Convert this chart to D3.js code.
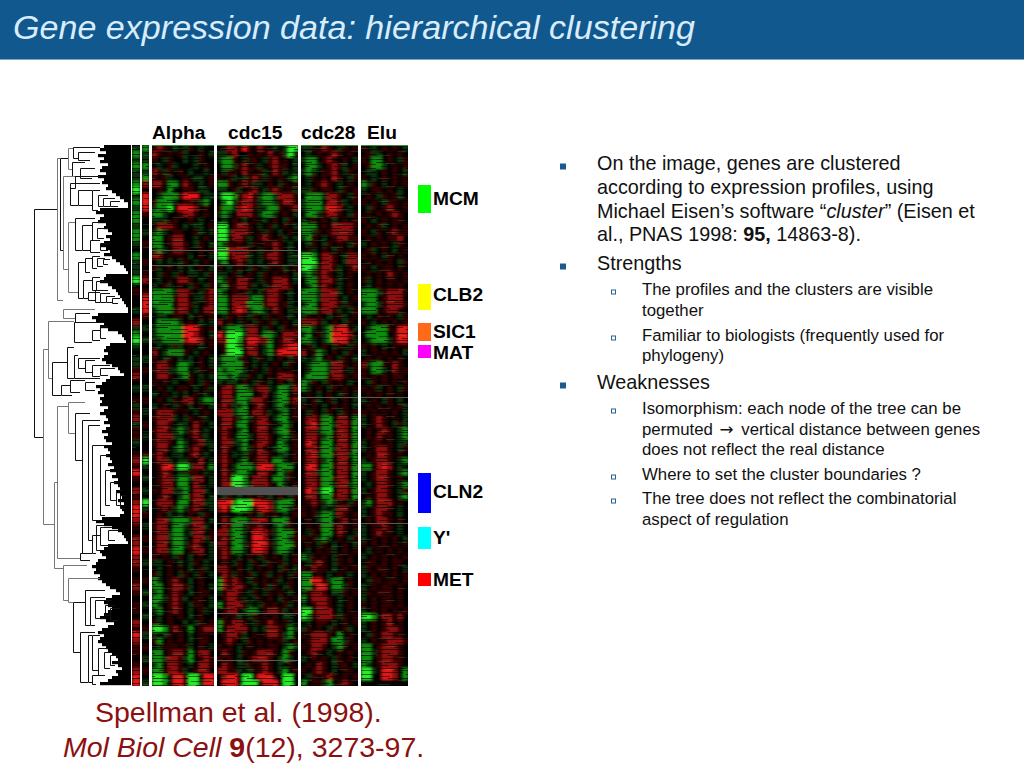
<!DOCTYPE html>
<html><head><meta charset="utf-8">
<script src="https://cdn.jsdelivr.net/npm/d3@7"></script>
<style>html,body{margin:0;padding:0;background:#fff}svg{display:block}text{font-family:"Liberation Sans",Arial,sans-serif}</style>
</head><body><svg id="c" width="1024" height="768"></svg>
<script>
// ---- expression levels: G g , . ; r R  (strong green ... black ... strong red), one string per row
const strip1 = ",g,g,,gG,g,gg,gg,.g,,,G.;..,.r,gG,.,,;r.,.;,;r,;;,.;r;R;.r;rRRr;.rrRrr;.;r;.;;.r;Rr;;.;rRRR".split("");
const strip2 = "g,,g,gr.RRR;..,.;..;.;r.;RRR;.,.,..,.;..,.;.,.;.,..;G,.,.,.G,;.,.;.;.,..;.,.,.,.;,.;.,.;.,".split("");
const alphaRows = [
";r;.,.,;.,..","r;.;.;,..;.,",";.,;..,.,;..",".,.;,...,.;.","r;,;.;.,..,.",";.;,..;.,,.;",
"rr.gg.r;.,.;",".;.g..;;.,,.",".,ggg;RRR.,,,",";ggg,.;;.,g.",",ggG.RRRr.;.","gg,..;rr;.;.",
",,,.;..;.,..",".rrr;.,.,,.;",",g,.;;..;,.,","gg.;rr..,.;.","gg.;rr;.,;.,",",g,.rr;..;.;",
"rr.;.;.,.;.,",".,.,.,;.,.;.",";,.;.,.,.;.,",".,;.,;.,,.,;",".,.;.rr;.,.;",",.;,.;.,;.,;",
"gggg,rr;.,;r","gggg;rr.,,;r","gggg.rr;,.;r",",ggg;rr.,.rr",".,,.;;.,.;.;",".gggg,.;.,.,",
",gggggRRR;.;",",gggggRRr;.,",",,ggggrRRr.;",".,.,;,.;.,.;","r.,ggg;.,.;.",";.,;.,.,.;.,",
".rr;.gg,.;.,",";rr,,gg.,;.;",".rr;.,g;.,.,",";.;.,..;.,;.",".;.,.;;.,.;,",",.;.,.,.;.,.",
".;.,;.rr.,gg",",.;.,;.,.;.,",".rrr;.;.,.;.",";rrr,.,;.;,.",
".rr;.,,.r;.,",";rr;,g,;r.,.",".rrr,,.;r;,.",";rr;.g,.;r,,",".rr.,g,;r;.,",";r;.,,.;r.,.",".rr,.,,;.r.,",
".;RR,GG,rr.g",".;r;.,,;;.,.",".;rr,gg,rr.,",".;rr.gg.r;.,",";.rr,,g.rr,.",".;r;.,g;rr.,",".rrr.gg.rr,,",".;r;,g,;r;.,",
".;.,.,.;.,;.",".rr,ggg,rr.,",";rr.gg,;rr,.",".rr,gg.,rr.;",";rr,gg,.rr,;",".rr.gg,;r;.,",";rr,gg.;rr.,",
";.;.,;.,.;.,",",,.;.,.,;.,.",".,.;.;.,.;,.",";,.;.,;.,;.,",
"g,.;r;.,.;..","gg.;rr;,.;.,",",g.;r;.,.;;.","gg,;r;,.;;.,","g,.;r;.,;;.,",",g.;r;.,.;,.",
".,.;.;.,.;..",";,.;..,.,;.;","GGg.r;.g.;rr",",.,;.;.,.;;.",";g.;.;.,.;;.",".,;;;.;,.;.,",
"gg.;rr.g.rr.","gg,rr;,g.;r;",",g.rr;.,.rr;","gg;rr;,.;rr.","GGg.RR;GG.RRR","GGg.RR;GG,RRR"];
const cdc15Rows = [
".;rr.R;.r;.,.,GG",",,;r..;.;.r.;,G,",",gg;.,;;.,;r.;.,",".gg,;r.;,.;r;;.,",".,;;.r;.;,.r;,.,",";.;,.,;r;,;.;.,g",
"gg;.;r;,,.;.,;.;",",,.;,.;r.,;r;.;,",",GGg;rR;,gg,rrr;",".gG,;rr;,gg,;rr;",";gg,rRr;,,gg;.;r",",g,.rrr.,gg,.;.,",
".,.;.,.;.,.;.,;.","GG.;rr;.,.;,.;.,","GG,rrr;.;,;.,.;.","GG.rr;,.;r;.;,.,","g,;.;.,;.;;r;.,.",
"GGrrrr;.,;.r;.,.","GG;rrr,.,;rr;.,,",",g.;r;,.,.;r;.,,",";.,.;.,;.,;.;,.;",",,.;,.;.,;.;.;.,","g,;.rr;.,;.rrr.,",
",g;;rr;,.,;rrr;.","g,.;.;,.,;rr;.,.","gg.rrr,gg;rr;.,.","gg.rrrggg;rr.;,.","gg.rRr,gg,.r;.,,",".,;.;.,;.,;.;.,.","r.;.,;.,;.;,.;.,",
".,ggg,rr.,;.,;.;","R;GGG,rr.gg,.rrr","rrGGg;RRrrg.;rr;",".;GGg;rr.,g.;rRR",".;GGG.rr.,g;RRRR",",ggg,;.,;.,.;.,;",",gggg;.,.,.;.,;.",
"g,ggg,.;.,;.;.;.","gg,g,,;.,.;.rrr;",",.,,.;.,;.,.;.,;",".rr;gg,;rr,.gg,r;",";rr.ggg.;r.,gg.;",".rr,gg,rr;.,gg;r",";r;,,g.;r;.,g,.;",
"rrr,gg.rr;,.,g.;",".rr;,g,;rr.,gg.;",".rr.gg.;rr;.,g,.",";r;.,g.;rr.,gg;.",".r;.gg,.rr;.,g,;",".rr,,g.;rr;.g,.;",".r;.,g,;r;.,gg.;",
";r.,.,;.rr;.,,.;",";r;.,g.;rr.gg,.;",".r.,ggg,RRR,ggg.",".r;,gg,.rr;.g,;.",".r;GGg.rrr.gg,;.",".rrGGg,rrr;.g,.;",
"----------------",".,;.,.;.;.,.;.,;","RRRgGGGRRRr,ggg.","rR;GGGg;RRr,gg,;",".;..,.;.,;.;.,.;",
".r;ggg,rrr.ggg;.",".r;gg,;;r;.,g,;.","rr,gg,.RRr;,ggg;r",";r;gg,.RRr.,gg,;r","rr.gg,;RRR;,ggg;.",";r;gg,.RRr.,gg,.;",
";r;.,.;.,;.;.,.;",".;.,;.,;.,;.;,.;","rr;.;.,.;.;.,;.,",".r;,;.;,.;,.;.,;",
"gr;r;.,;.;.;,.;.","gr;rr;.,.;,;.,;.",",;rr;.,;.,;.;.,.",".;rr;,.,;.;.,;.;","g.rrr;,.,;.;.;,.",".;rr.,gg.;rr;,.;",
".;.;,.,;.;.;.,,.","g;.rr;.,;.r;.;,.","g.rrrr.,.,rr;.g,",".;rr;,.;.;rr;,g.",".;r;.,;.;.;.;,.;",";.;.,.;.;.;;.,g,",
".r;.,;.;rrr;.g;.",";.;.,.;rrr;.,g,.",".r;.,,;.;r;.,.;.","rr;;,.,;;r;.,g.;",".rRR.GG.RRR;.GG.",".RRR.GGG.RRR.GG."];
const cdc28Rows = [
",,;.r;.,;.;",".,.;.;r;.;.",",gg.;r;.;.,",".gg,.;r;,.;",",g,.;;r.,;.",".,;.;.r;.,;",
".,.;r;.,.;.",",,;.;;.,;.;",".ggg,rr;.,;",",ggg.rr;,.;",",ggg,RRr.,.",".gg,;rr;.,;",
",.;.;.,.;.;","ggg.;.rrrr;","gg,;.;rrrr.",",g;.,.;rr;;",".,;.,;.;.,;",".;,.;.,;.;.",
"GGg.rr;.,rr","GGG.rr;.,rr","GGg;rr;,.;r",",g,;r;.,.;.",".gg;rr;,.;.",".,g;r;.,.;.",
"ggg,rrr,.;.","ggg,rrr.,.;",",gg.rrr;,;.","ggg;rr;,.,;",",;.;.,.;,.;","rrr;,.;.,;.",
"gg,.,grRR.,",",g.;,gRRRr.","gg,.,gRRR;,",".;,.;.,;.,;","r.;g,.;.,;.",",.,g.;.,;.,",
".,ggg,rr;.;",".,ggg,rr.,;",".gggg;rr;.;","g,;.,;.;.,.","g,.;.,;.;.;",".;.,.;.,;.,",
",.;,.;,.;.,",";.;.,.;.;.,",".,;.,;.,;.;",
".rr;gg.rr.g",".rR;gg,rr;g",".rr,gg.rr.g",".rr;,g;rr;g",".Rr.gg.rr.g",".rr;gg,rr;g",".rR,gg;rr,g",".rr;,g.rr.g",
".RR.gg;rr;g",".rr,gg.rr.g",".rr;gg;rr.g",".rr;gg,rr,g",".Rr,GG.rr;g",".rr.gg;rr.g",".;r;,g,;.,;",
";.;.,.,rr;.",";.;,gg,r;.;",".;.,gg.;r.;",".;.;gg;r;.;",".,;.gg.r;.,",";.;,g,.;.,;",
".;.,;.,.;.,",".,.;.;,.;.;","g,;.;.,;.;.",".,;r;.,;.;.",";.r;;.,.;.;",
"gg.;.,.;.,.","ggRR;,gg.;.","gg;RR.gg,;.",",;rr;.,,;.;","g.rrr;.,.;.",",.;rr;.,.;.",
"GG;rrr.,.;.","Gg;rrr;,;.;",".,.;;.,.;.;",",;.;.,;.;,.",";.rrr;.g.;.",".;rrr.gg,;.",
";.rr;.,g;.;",".;r;.,.;.;.",",.;.;.,;.;.",".;.r;.,;;.,",";.;r;.,.;;.",".,;.;r;.;.;","g.;;,g.;r;.","g.;.gg,.r;;"];
const eluRows = [
";.,.;.;.,",".;,,.;.;.",";.gg.;.,;",".;gg,.;.;",".,,.;.;.,",";.,.;.;.;",
"g,;.,.;.;",",.;;.;.,.",".;.,;.;,.",";.;.,;;.;",".,;.;r;.;",".;.;.;r;.",
";.,.;.;;.",".;.;,.;.;",";.,;.;r;;",".;.;.;;r.",",.;.;.,;.",".;,.;.,.;",
";.;.,;.;.",".;.;.;.,;",";.,.;;.;.",".;.;.r;.;",";,.;.;;.;",".,.;.;.;.",
"ggg,;rrr;","ggg.;rrr.",",gg,;rrr;","ggg.;rr;.",".,.;.;.,;",";.,.;.;.;",
".,ggg;.RR",".gggg.;RR",".,ggg,;RR",";.;.,.;.;",",.;.;.;.,",".;.;.;.;.",
"r,gg;.r;.",";.gg,.r;;",";.;.;.;;.",".,;.;.;.;",";.;,.;.,;",".;.;.;.;.",
",.;.,;.,.",".;.;.;.;,",";.;.;.;.,",
",.;r;.;.,",",.;r;.,;,",".;.;r;.,g",".;.r;;.,g",",.;;.;.,,",",.;rr;.,;",".;.rr;.;.",",.;rr;.,g",
"gg.rRr.,.",",.;rr;.,g",",.;rr;.;.",".,.rr;.,g",",.;rr;.,;",".;.rr;.,g",",g.rrr.;.",
",.;rr;.,.",",.;r;;.,.",".;.rr;.;.",",.;;r;.,.",",.;r;;.,.",",.;.;.;.,",
";.;.;.;.;",".,.;.;.;.",",.;.;.;.;",".;;.;.;;.",",;.;;.;.,",
",.;.;.;.;",".,;;.;;.;",",.;.;;.;.",",;.;;;.;.",",.;.;;.;.",";.;.;;.;.",
",.;.;.;.;","GGg.rr.r.",",.;.;r.;.",",.;.;rr;.",".,;.rr;;.",",.;.;rrr;",
"gg.;rrr;.","gg,;rrr;.","gg.;rr;;.","g,.;rrr;.","GG,.RRr.g","GG..RRr.g"];
const columnLabels = ["Alpha","cdc15","cdc28","Elu"];
const levelChars = ["G","g",",",".",";","r","R"];
const levelValues = [-3,-2,-1,0,1,2,3];
const greyStreaks = [["alpha",105,1],["alpha",120,1],["cdc15",105,1],["cdc15",120,1],["cdc15",342,8],["cdc15",378,1],["cdc15",468,1],["cdc15",515,1],["cdc28",252,1],["cdc28",378,1],["elu",378,1],["elu",252,1]];
// ---- dendrogram: [distance, gene top, gene bottom, top child distance, bottom child distance]
const treeBranches = [
[4,64,292,27,13],[27,13,155,30,33],[30,13,105,38,33],[38,3,24,43,42],[43,2,13,70,48],[48,7,15,65,60],[42,17,31,55,50],[50,23,33,65,62],
[33,31,124,45,38],[45,31,43,70,40],[40,38,60,70,48],[48,45,60,62,62],[62,45,65,70,68],[68,50,61,78,73],[73,53,61,85,80],[80,56,61,90,88],
[38,77,147,45,48],[45,73,105,65,52],[52,80,105,62,60],[62,77,95,70,67],[67,83,93,78,74],[60,95,107,70,70],[70,98,105,80,78],
[48,117,153,55,53],[55,113,127,62,60],[62,111,123,70,67],[67,113,121,75,73],[73,114,119,80,78],[53,135,153,62,58],[62,132,145,70,66],[66,136,145,78,72],
[58,147,155,70,65],[65,145,157,78,70],[70,148,157,80,76],[76,151,157,85,82],[82,153,158,90,88],[33,164,173,65,45],[45,168,177,60,60],
[13,204,379,18,24],[18,176,233,44,22],[22,217,250,37,31],[44,177,197,75,62],[62,185,195,70,70],[70,181,193,78,76],
[37,202,233,44,44],[44,210,233,48,70],[48,213,223,70,55],[55,215,227,65,62],[62,220,231,80,70],[70,223,230,85,78],
[31,240,250,40,42],[40,235,247,55,50],[55,237,245,65,65],[24,337,423,27,33],
[27,261,413,38,50],[38,257,288,55,45],[45,268,315,60,52],[52,275,408,70,58],[58,280,395,70,62],[62,300,375,75,70],[70,310,370,78,75],[75,325,360,82,80],[80,337,355,88,86],[86,345,360,92,90],[90,350,363,96,95],
[62,390,408,70,66],[66,380,405,75,70],[70,382,400,82,78],[78,385,395,88,85],[50,408,415,62,60],
[33,420,455,57,38],[38,433,457,70,43],[43,457,507,55,50],[55,445,480,75,60],[60,452,480,75,65],[65,455,473,82,75],[75,460,470,85,80],[80,463,475,90,88],
[50,487,537,65,58],[58,490,537,62,62],[62,490,525,70,68],[68,503,530,78,74],[74,507,523,82,80],[80,510,520,88,85],[62,530,539,75,66]];
const greyDistances = [27,33,38,18,24,13];
// ---- left edge of the solid leaf mass (distance), one value per 3 gene steps
const leafEdge = [74,70,76,68,74,70,78,72,70,76,68,74,72,78,76,82,86,90,94,98,98,70,66,74,70,68,76,74,78,82,76,80,74,70,76,80,74,82,86,90,94,96,98,76,74,70,78,82,86,88,90,92,94,96,98,98,68,62,66,74,70,78,88,92,94,96,80,76,74,78,74,72,76,82,88,90,94,80,76,72,66,70,68,74,70,72,70,78,74,70,76,78,74,80,76,72,78,74,76,82,74,78,80,76,80,82,78,84,80,86,82,88,84,88,90,86,90,92,88,94,90,92,94,90,72,66,74,82,88,92,94,96,98,78,74,70,72,76,68,66,62,66,64,70,68,72,76,80,86,90,82,76,74,78,82,78,74,70,76,84,78,72,68,74,70,68,72,76,78,82,86,88,82,88,92,86,88,82,78,70];
// ---- marker clusters
const clusterNames = ["MCM","CLB2","SIC1","MAT","CLN2","Y'","MET"];
const clusterStart = [40,139,178,200,328,382,428];
const clusterEnd = [68,165,196,213,368,404,441];
const clusterColors = ["#00ff00","#ffff00","#ff6a1a","#ff00ff","#0000ff","#00ffff","#ff0000"];
const clusterLabelGene = [54,150,187,208,347,393,435];
// ---- texts
const titleText = "Gene expression data: hierarchical clustering";
const bodyLines = [
 [0,163,"On the image, genes are clustered",1],[0,187,"according to expression profiles, using"],
 [0,211,[["Michael Eisen\u2019s software \u201c"],["cluster","i"],["\u201d (Eisen et"]]],
 [0,234,[["al., PNAS 1998: "],["95,","b"],[" 14863-8)."]]],
 [0,263,"Strengths",1],
 [1,289,"The profiles and the clusters are visible",1],[1,310,"together"],
 [1,335,"Familiar to biologists (frequently used for",1],[1,355,"phylogeny)"],
 [0,382,"Weaknesses",1],
 [1,408,"Isomorphism: each node of the tree can be",1],[1,429,[["permuted "],["\u2192","a"],[" vertical distance between genes","d"]]],[1,449,"does not reflect the real distance"],
 [1,474,"Where to set the cluster boundaries ?",1],
 [1,498,"The tree does not reflect the combinatorial",1],[1,519,"aspect of regulation"]];

const svg = d3.select("#c");
const defs = svg.append("defs");
defs.append("filter").attr("id","soft").attr("x","-3%").attr("y","-2%").attr("width","106%").attr("height","104%")
  .append("feGaussianBlur").attr("stdDeviation","1.8 1.0");
// fine horizontal grain of the scanned picture
const scan = defs.append("pattern").attr("id","scan").attr("patternUnits","userSpaceOnUse").attr("width",47).attr("height",23);
[[0,1,30,.65],[18,3,29,.5],[5,5,22,.7],[30,7,17,.6],[0,9,14,.55],[12,11,35,.7],[3,14,20,.5],[26,16,21,.65],[8,18,30,.6],[0,21,12,.7],[20,21,27,.5]]
  .forEach(r=>scan.append("rect").attr("x",r[0]).attr("y",r[1]).attr("width",r[2]).attr("height",1).attr("fill","#000").attr("opacity",r[3]));
[[10,2,9,.2],[32,10,10,.18],[2,17,12,.18],[22,13,8,.16]]
  .forEach(r=>scan.append("rect").attr("x",r[0]).attr("y",r[1]).attr("width",r[2]).attr("height",1).attr("fill","#6fd06f").attr("opacity",r[3]));

// header
svg.append("rect").attr("width",1024).attr("height",59).attr("fill","#11588f");
svg.append("rect").attr("y",59).attr("width",1024).attr("height",1).attr("fill","#7fa6c4");
svg.append("text").attr("x",13).attr("y",39).attr("font-size",34.1).attr("font-style","italic").attr("fill","#d8ecfa").text(titleText);

// scales
const y = d3.scaleLinear().domain([0,541]).range([145,686]);
const dist = d3.scaleLinear().domain([0,100]).range([30,130]);
const rowY = d3.scaleBand().domain(d3.range(90)).range([145,686]);
const colour = d3.scaleLinear().domain(levelValues).range(["#26f026","#0e8e0e","#083208","#050303","#340606","#8e0e0e","#e61616"]);
const levelOf = d3.scaleOrdinal().domain(levelChars).range(levelValues);

// heat map panels
const panels = [
 {key:"strip1",rows:strip1,x0:132,x1:140},
 {key:"strip2",rows:strip2,x0:142,x1:149},
 {key:"alpha",rows:alphaRows,x0:152,x1:214,label:0,n:12},
 {key:"cdc15",rows:cdc15Rows,x0:217,x1:298,label:1,n:16},
 {key:"cdc28",rows:cdc28Rows,x0:301,x1:358,label:2,n:11},
 {key:"elu",rows:eluRows,x0:361,x1:408,label:3,n:9}];
const labelX = [152,228,301,367];
panels.forEach(p=>{
  const n = p.n||1;
  const x = d3.scaleBand().domain(d3.range(n)).range([p.x0,p.x1]);
  const cid = "clip-"+p.key;
  defs.append("clipPath").attr("id",cid).append("rect").attr("x",p.x0).attr("y",145).attr("width",p.x1-p.x0).attr("height",541);
  const g = svg.append("g").attr("clip-path",`url(#${cid})`);
  g.append("rect").attr("x",p.x0).attr("y",145).attr("width",p.x1-p.x0).attr("height",541).attr("fill","#050505");
  const inner = g.append("g").attr("filter","url(#soft)");
  const cells = [];
  p.rows.slice(0,90).forEach((r,i)=>{ Array.from(r).slice(0,n).forEach((c,j)=>cells.push({i,j,c})); });
  inner.selectAll("rect").data(cells).join("rect")
    .attr("x",d=>x(d.j)).attr("y",d=>rowY(d.i)).attr("width",x.bandwidth()+.5).attr("height",rowY.bandwidth()+.5)
    .attr("fill",d=>d.c==="-"?"#505050":colour(levelOf(d.c)));
  g.append("rect").attr("x",p.x0).attr("y",145).attr("width",p.x1-p.x0).attr("height",541).attr("fill","url(#scan)");
  g.selectAll("rect.streak").data(greyStreaks.filter(s=>s[0]===p.key)).join("rect").attr("class","streak")
    .attr("x",p.x0).attr("width",p.x1-p.x0).attr("y",d=>y(d[1])).attr("height",d=>d[2]).attr("fill",d=>d[2]>2?"#505050":"#5a5a50");
  if(p.label!==undefined){
    svg.append("rect").attr("x",p.x0).attr("y",145).attr("width",p.x1-p.x0).attr("height",1).attr("fill","#3a8a3a");
    svg.append("text").attr("x",labelX[p.label]).attr("y",139).attr("font-size",19.2).attr("font-weight","bold").attr("fill","#000").text(columnLabels[p.label]);
  }
});

// leaf mass
svg.append("g").selectAll("rect").data(leafEdge).join("rect")
  .attr("x",d=>dist(d)).attr("y",(d,i)=>y(i*3)).attr("width",d=>dist(100)-dist(d)+1).attr("height",y(3)-y(0)+.2).attr("fill","#000");

// dendrogram
const tree = svg.append("g").attr("fill","none").attr("stroke-width",1);
tree.selectAll("path").data(treeBranches).join("path")
  .attr("stroke",d=>greyDistances.includes(d[0])?"#777":"#111")
  .attr("d",d=>`M${dist(d[3])},${y(d[1])+.5}H${dist(d[0])+.5}V${y(d[2])+.5}H${dist(d[4])}`);

// cluster markers
const cl = svg.append("g");
cl.selectAll("rect").data(clusterNames).join("rect")
  .attr("x",418).attr("width",13).attr("y",(d,i)=>y(clusterStart[i])).attr("height",(d,i)=>y(clusterEnd[i])-y(clusterStart[i]))
  .attr("fill",(d,i)=>clusterColors[i]);
cl.selectAll("text").data(clusterNames).join("text")
  .attr("x",433).attr("y",(d,i)=>y(clusterLabelGene[i])+6).attr("font-size",19.2).attr("font-weight","bold").attr("fill","#000").text(d=>d);

// citation
const cite = svg.append("g").attr("fill","#8b1010").attr("font-size",28.5);
cite.append("text").attr("x",95).attr("y",722).text("Spellman et al. (1998).");
const c2 = cite.append("text").attr("x",63).attr("y",757);
c2.append("tspan").attr("font-style","italic").text("Mol Biol Cell ");
c2.append("tspan").attr("font-weight","bold").text("9");
c2.append("tspan").text("(12), 3273-97.");

// body text and bullets
const body = svg.append("g").attr("fill","#111");
bodyLines.forEach(l=>{
  const lvl=l[0], cy=l[1], t=l[2], bullet=l[3];
  const tx = body.append("text").attr("x",lvl?642:597).attr("y",cy+(lvl?6:7)).attr("font-size",lvl?16.8:19.8);
  if(Array.isArray(t)) t.forEach(s=>{
    const sp=tx.append("tspan").text(s[0]);
    if(s[1]==="i")sp.attr("font-style","italic");
    if(s[1]==="b")sp.attr("font-weight","bold");
    if(s[1]==="a")sp.style("font-family","'DejaVu Sans'").attr("dx",2);
    if(s[1]==="d")sp.attr("dx",3);
  });
  else tx.text(t);
  if(bullet){
    if(lvl) svg.append("rect").attr("x",611.5).attr("y",cy+1).attr("width",4).attr("height",4).attr("fill","#fff").attr("stroke","#2a6496").attr("stroke-width",1);
    else svg.append("rect").attr("x",560).attr("y",cy+.5).attr("width",6).attr("height",6).attr("fill","#1a5a90");
  }
});
</script></body></html>
